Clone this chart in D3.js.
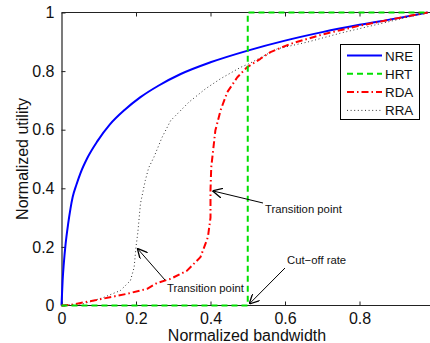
<!DOCTYPE html>
<html>
<head>
<meta charset="utf-8">
<script src="https://cdn.jsdelivr.net/npm/d3@7"></script>
<style>
  html, body { margin: 0; padding: 0; background: #fff; }
  svg { display: block; font-family: "Liberation Sans", Arial, sans-serif; }
</style>
</head>
<body>
<svg id="chart" width="430" height="343"></svg>
<script>
// Normalized utility vs. normalized bandwidth for four allocation schemes
const nreX = [0, 0.003, 0.006, 0.011, 0.018, 0.024, 0.03, 0.04, 0.051, 0.07, 0.096, 0.13, 0.17, 0.212, 0.26, 0.32, 0.4, 0.5, 0.6, 0.7, 0.8, 0.9, 0.983];
const nreY = [0, 0.085, 0.14, 0.21, 0.28, 0.33, 0.37, 0.412, 0.452, 0.505, 0.56, 0.618, 0.668, 0.711, 0.75, 0.79, 0.83, 0.87, 0.904, 0.933, 0.958, 0.98, 1];

const hrtX = [0, 0.5, 0.5, 0.983];
const hrtY = [0, 0, 1, 1];

const rdaX = [0, 0.024, 0.087, 0.176, 0.23, 0.257, 0.293, 0.337, 0.373, 0.393, 0.4, 0.4, 0.402, 0.413, 0.427, 0.445, 0.472, 0.498, 0.534, 0.561, 0.615, 0.7, 0.8, 0.9, 0.983];
const rdaY = [0, 0.002, 0.017, 0.04, 0.057, 0.077, 0.091, 0.119, 0.165, 0.233, 0.3, 0.393, 0.472, 0.597, 0.666, 0.728, 0.779, 0.813, 0.842, 0.865, 0.893, 0.925, 0.955, 0.98, 1];

const rraX = [0, 0.06, 0.114, 0.158, 0.185, 0.195, 0.2, 0.205, 0.212, 0.225, 0.234, 0.248, 0.27, 0.293, 0.342, 0.387, 0.427, 0.481, 0.503, 0.579, 0.66, 0.75, 0.85, 0.983];
const rraY = [0, 0.006, 0.028, 0.051, 0.085, 0.13, 0.2, 0.25, 0.348, 0.427, 0.47, 0.506, 0.574, 0.631, 0.694, 0.74, 0.774, 0.813, 0.825, 0.876, 0.899, 0.93, 0.96, 1];

const xTicks = [0, 0.2, 0.4, 0.6, 0.8];
const yTicks = [0, 0.2, 0.4, 0.6, 0.8, 1];

const seriesNames = ["NRE", "HRT", "RDA", "RRA"];

// Annotation targets (data coordinates) and their text
const notes = [
  { text: "Transition point", at: [0.4, 0.393], tx: 265, ty: 213, from: [263, 203] },
  { text: "Transition point", at: [0.2, 0.2], tx: 167, ty: 292, from: [165, 280] },
  { text: "Cut\u2212off rate", at: [0.5, 0.0], tx: 287, ty: 264, from: [285, 268] }
];

const svg = d3.select("#chart");
const plotLeft = 61.5, plotTop = 12.5, plotBottom = 305.5;
const x = d3.scaleLinear().domain([0, 1]).range([plotLeft, plotLeft + 372.5]);
const y = d3.scaleLinear().domain([0, 1]).range([plotBottom, plotTop]);

const styles = {
  NRE: { color: "#0000ff", width: 2, dash: null },
  HRT: { color: "#00e000", width: 2, dash: "6,4" },
  RDA: { color: "#ff0000", width: 2, dash: "7,3,1.5,3" },
  RRA: { color: "#333333", width: 1, dash: "1,2.6" }
};

const data = {
  NRE: nreX.map((v, i) => [v, nreY[i]]),
  HRT: hrtX.map((v, i) => [v, hrtY[i]]),
  RDA: rdaX.map((v, i) => [v, rdaY[i]]),
  RRA: rraX.map((v, i) => [v, rraY[i]])
};

const line = d3.line().x(d => x(d[0])).y(d => y(d[1]));
const curve = d3.line().x(d => x(d[0])).y(d => y(d[1])).curve(d3.curveMonotoneX);

// Draw order: NRE first, HRT last so it sits over the x axis
["NRE", "RRA", "RDA", "HRT"].forEach(name => {
  const s = styles[name];
  svg.append("path")
    .attr("class", "series")
    .attr("d", name === "NRE" ? curve(data[name]) : line(data[name]))
    .attr("fill", "none")
    .attr("stroke", s.color)
    .attr("stroke-width", s.width)
    .attr("stroke-dasharray", s.dash)
    .attr("stroke-linejoin", "round");
});

// Axes
const axisColor = "#222";
const xAxis = svg.append("g").attr("transform", `translate(0,${plotBottom})`)
  .call(d3.axisBottom(x).tickValues(xTicks).tickSizeInner(-4).tickSizeOuter(0).tickPadding(7)
    .tickFormat(d => d3.format("~g")(d)));
const yAxis = svg.append("g").attr("transform", `translate(${plotLeft},0)`)
  .call(d3.axisLeft(y).tickValues(yTicks).tickSizeInner(-4).tickSizeOuter(0).tickPadding(7)
    .tickFormat(d => d3.format("~g")(d)));
const topAxis = svg.append("g").attr("transform", `translate(0,${plotTop})`)
  .call(d3.axisTop(x).tickValues(xTicks.slice(1)).tickSizeInner(-4).tickSizeOuter(0).tickFormat(""));

[xAxis, yAxis, topAxis].forEach(g => {
  g.select(".domain").attr("stroke", axisColor).attr("stroke-width", 1.2);
  g.selectAll(".tick line").attr("stroke", axisColor);
  g.selectAll("text").attr("font-family", "Liberation Sans, Arial, sans-serif").attr("font-size", 16).attr("fill", "#111");
});
topAxis.select(".domain").attr("d", `M${plotLeft},0H430`);
xAxis.select(".domain").attr("d", `M${plotLeft},0H430`);

// Keep the series above the frame lines
svg.selectAll("path.series").raise();

// Axis titles
svg.append("text").attr("x", 247).attr("y", 341)
  .attr("text-anchor", "middle").attr("font-size", 16).attr("fill", "#111")
  .text("Normalized bandwidth");
svg.append("text").attr("transform", `translate(28,${(plotTop + plotBottom) / 2}) rotate(-90)`)
  .attr("text-anchor", "middle").attr("font-size", 16).attr("fill", "#111")
  .text("Normalized utility");

// Annotations with arrows
svg.append("defs").append("marker")
  .attr("id", "arrow").attr("viewBox", "0 0 10 10").attr("refX", 10).attr("refY", 5)
  .attr("markerWidth", 10).attr("markerHeight", 10).attr("markerUnits", "userSpaceOnUse")
  .attr("orient", "auto")
  .append("path").attr("d", "M0,0L10,5L0,10").attr("fill", "none").attr("stroke", "#000").attr("stroke-width", 1.3);

notes.forEach(n => {
  const tx = x(n.at[0]), ty = y(n.at[1]);
  const ang = Math.atan2(ty - n.from[1], tx - n.from[0]);
  svg.append("line")
    .attr("x1", n.from[0]).attr("y1", n.from[1])
    .attr("x2", tx - Math.cos(ang) * 2).attr("y2", ty - Math.sin(ang) * 2)
    .attr("stroke", "#000").attr("stroke-width", 1)
    .attr("marker-end", "url(#arrow)");
  svg.append("text").attr("x", n.tx).attr("y", n.ty)
    .attr("font-size", 11.3).attr("fill", "#111").text(n.text);
});

// Legend
const lg = svg.append("g");
lg.append("rect").attr("x", 340.5).attr("y", 44.5).attr("width", 79).attr("height", 75)
  .attr("fill", "#fff").attr("stroke", "#000").attr("stroke-width", 1);
seriesNames.forEach((name, i) => {
  const s = styles[name];
  const yy = 55.5 + i * 18.3;
  lg.append("line").attr("x1", 347).attr("x2", 382).attr("y1", yy).attr("y2", yy)
    .attr("stroke", s.color).attr("stroke-width", s.width).attr("stroke-dasharray", s.dash);
  lg.append("text").attr("x", 385).attr("y", yy + 5).attr("font-size", 13.4).attr("fill", "#111").text(name);
});
</script>
</body>
</html>
